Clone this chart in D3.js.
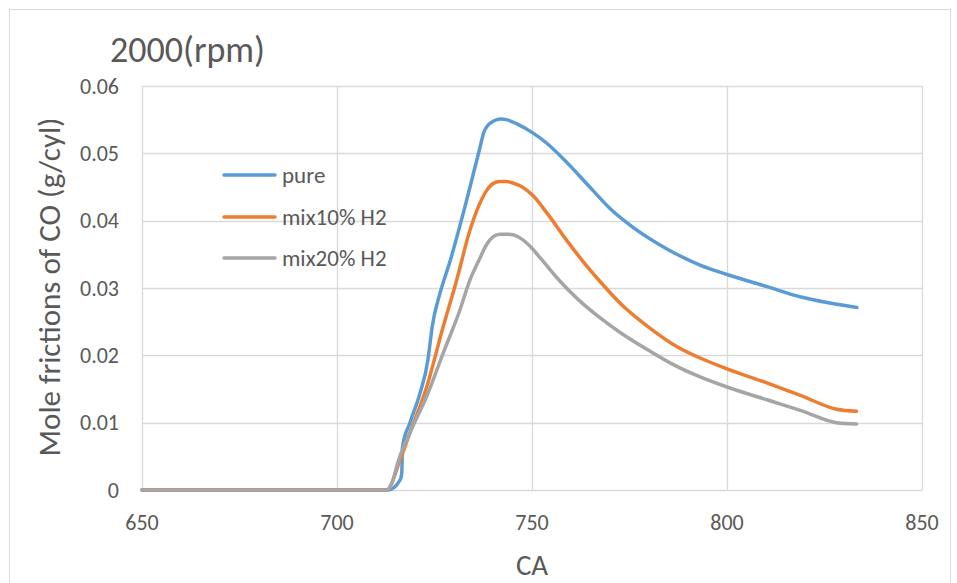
<!DOCTYPE html>
<html><head><meta charset="utf-8">
<script src="https://cdn.jsdelivr.net/npm/d3@7"></script>
<style>body{margin:0;background:#fff}svg{display:block}text{font-family:Carlito,Lato,"Liberation Sans",sans-serif;fill:#595959}</style>
</head><body><svg id="c" width="957" height="583"></svg>
<script>
const title = "2000(rpm)";
const xLabel = "CA";
const yLabel = "Mole frictions of CO (g/cyl)";
const xTicks = [650, 700, 750, 800, 850];
const yTicks = [0, 0.01, 0.02, 0.03, 0.04, 0.05, 0.06];
const seriesNames = ["pure", "mix10% H2", "mix20% H2"];
const seriesColors = ["#5B9BD5", "#ED7D31", "#A5A5A5"];

const pureCA  = [650, 713.1, 716.2, 716.6, 716.8, 718.7, 721.3, 723.3, 723.8, 724.4, 726.4, 729, 733, 736.5, 737.7, 738.6, 739.6, 741, 742, 743.5, 746, 750.3, 753.8, 758, 765.6, 770, 775.9, 784.6, 793.1, 800, 810.3, 818.7, 826, 833.3];
const pureVal = [0, 0, 0.0015, 0.0025, 0.0064, 0.010, 0.0144, 0.0193, 0.0215, 0.0242, 0.0292, 0.034, 0.0425, 0.0505, 0.0532, 0.0541, 0.0546, 0.0550, 0.0551, 0.0550, 0.0544, 0.053, 0.0515, 0.0492, 0.0445, 0.0418, 0.0390, 0.0358, 0.0334, 0.0320, 0.0302, 0.0287, 0.0278, 0.0271];

const mix10CA  = [650, 712.7, 716.2, 718.7, 723, 727.2, 730.7, 734.1, 736.5, 738.4, 740, 741.8, 743.5, 745.1, 747.5, 750.3, 754, 759, 763, 767.4, 773, 780.3, 786, 793.1, 800, 810.2, 819, 828.1, 833.2];
const mix10Val = [0, 0, 0.0045, 0.0085, 0.0153, 0.0242, 0.0312, 0.0386, 0.0424, 0.0445, 0.0455, 0.0458, 0.0458, 0.0456, 0.0450, 0.0437, 0.0410, 0.0370, 0.0340, 0.0310, 0.0275, 0.0240, 0.0217, 0.0196, 0.0180, 0.0159, 0.0140, 0.0120, 0.0117];

const mix20CA  = [650, 712.7, 714.4, 715.3, 718.7, 723, 727.2, 731.5, 734.1, 736.7, 738.4, 740, 741.8, 743.5, 745.1, 747.3, 749.5, 752.5, 757.2, 762, 767.4, 772.6, 780.3, 786, 793.1, 800, 810.2, 819, 828.1, 833.2];
const mix20Val = [0, 0, 0.0015, 0.0035, 0.0085, 0.0139, 0.0203, 0.0267, 0.0312, 0.0345, 0.0365, 0.0376, 0.0380, 0.0380, 0.0379, 0.0373, 0.0362, 0.0342, 0.0310, 0.0282, 0.0256, 0.0234, 0.0206, 0.0187, 0.0168, 0.0153, 0.0134, 0.0118, 0.0100, 0.0098];

const seriesCA = [pureCA, mix10CA, mix20CA];
const seriesVal = [pureVal, mix10Val, mix20Val];

const svg = d3.select("#c");
svg.append("rect").attr("x",9.5).attr("y",9.5).attr("width",941).attr("height",600)
  .attr("fill","#fff").attr("stroke","#D9D9D9");

const L=142, R=922, T=86, B=490;
const x = d3.scaleLinear().domain([650,850]).range([L,R]);
const y = d3.scaleLinear().domain([0,0.06]).range([B,T]);

const g = svg.append("g");
g.selectAll(".hg").data(yTicks).join("line")
  .attr("x1",L).attr("x2",R).attr("y1",d=>Math.round(y(d))+0.5).attr("y2",d=>Math.round(y(d))+0.5)
  .attr("stroke","#D9D9D9").attr("stroke-width",1.3);
g.selectAll(".vg").data(xTicks).join("line")
  .attr("y1",T).attr("y2",B).attr("x1",d=>Math.round(x(d))+0.5).attr("x2",d=>Math.round(x(d))+0.5)
  .attr("stroke","#D9D9D9").attr("stroke-width",1.3);

g.selectAll(".yt").data(yTicks).join("text")
  .attr("x",119).attr("y",d=>y(d)).attr("dy","0.35em").attr("text-anchor","end")
  .attr("font-size",22).text(d=>d===0?"0":d3.format(".2f")(d));
g.selectAll(".xt").data(xTicks).join("text")
  .attr("x",d=>x(d)).attr("y",522).attr("dy","0.35em").attr("text-anchor","middle")
  .attr("font-size",22).text(d=>d);

svg.append("text").attr("x",110).attr("y",62).attr("font-size",36).text(title);
svg.append("text").attr("x",x(750)).attr("y",575).attr("text-anchor","middle").attr("font-size",29).text(xLabel);
svg.append("text").attr("transform","translate(60,287) rotate(-90)").attr("text-anchor","middle").attr("font-size",31).text(yLabel);

const line = d3.line().x(d=>x(d[0])).y(d=>y(d[1])).curve(d3.curveMonotoneX);
seriesNames.forEach((n,i)=>{
  const pts = seriesCA[i].map((c,j)=>[c, seriesVal[i][j]]);
  svg.append("path").datum(pts).attr("d",line).attr("fill","none")
    .attr("stroke",seriesColors[i]).attr("stroke-width",3.5).attr("stroke-linejoin","round").attr("stroke-linecap","round");
});

const ly = [175, 217, 258];
seriesNames.forEach((n,i)=>{
  svg.append("line").attr("x1",224).attr("x2",275).attr("y1",ly[i]).attr("y2",ly[i])
    .attr("stroke",seriesColors[i]).attr("stroke-width",3.5).attr("stroke-linecap","round");
  svg.append("text").attr("x",282).attr("y",ly[i]).attr("dy","0.35em").attr("font-size",23).text(n);
});
</script></body></html>
